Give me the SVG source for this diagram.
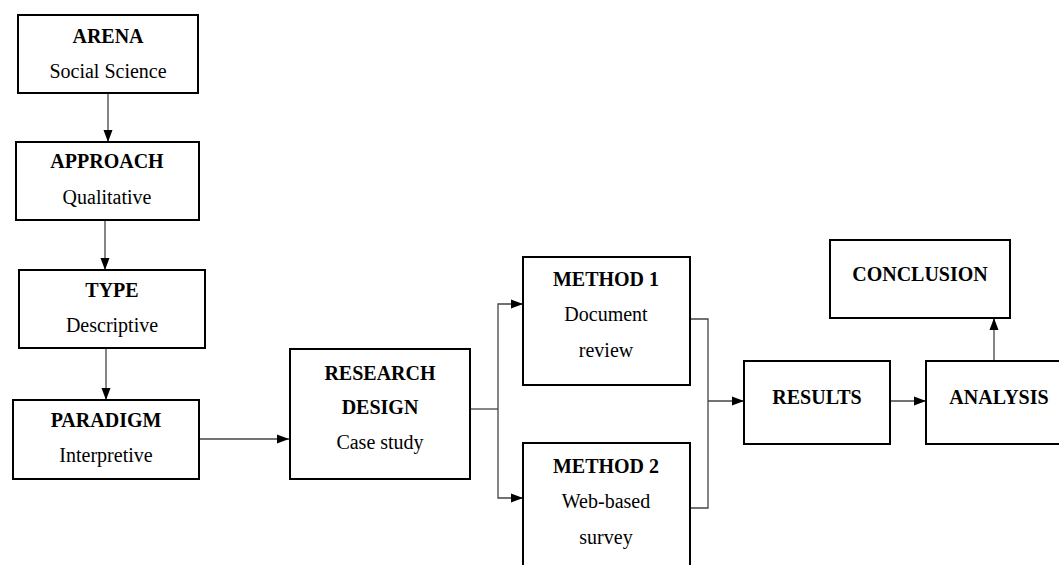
<svg xmlns="http://www.w3.org/2000/svg" width="1059" height="565" viewBox="0 0 1059 565">
<style>
.box{fill:#fff;stroke:#000;stroke-width:2}
.b{font-family:"Liberation Serif","DejaVu Serif",serif;font-size:20px;font-weight:bold;text-anchor:middle;fill:#000}
.r{font-family:"Liberation Serif","DejaVu Serif",serif;font-size:20px;text-anchor:middle;fill:#000}
.c{fill:none;stroke:#444;stroke-width:1.3}
</style>
<defs>
<marker id="ah" markerUnits="userSpaceOnUse" markerWidth="12" markerHeight="12" viewBox="0 0 12 12" refX="12" refY="6" orient="auto">
<path d="M0,1.5 L12,6 L0,10.5 Z" fill="#000"/>
</marker>
</defs>
<rect width="1059" height="565" fill="#fff"/>
<g id="connectors">
<line class="c" x1="108" y1="93" x2="108" y2="142" marker-end="url(#ah)"/>
<line class="c" x1="105" y1="220" x2="105" y2="270" marker-end="url(#ah)"/>
<line class="c" x1="106" y1="348" x2="106" y2="400" marker-end="url(#ah)"/>
<line class="c" x1="199" y1="439" x2="289" y2="439" marker-end="url(#ah)"/>
<polyline class="c" points="470,409 498,409"/>
<polyline class="c" points="498,409 498,304 523,304" marker-end="url(#ah)"/>
<polyline class="c" points="498,409 498,498 523,498" marker-end="url(#ah)"/>
<polyline class="c" points="690,319 708,319 708,508 690,508"/>
<line class="c" x1="708" y1="401" x2="744" y2="401" marker-end="url(#ah)"/>
<line class="c" x1="890" y1="401" x2="926" y2="401" marker-end="url(#ah)"/>
<line class="c" x1="994" y1="361" x2="994" y2="318" marker-end="url(#ah)"/>
</g>
<g id="arena">
<rect class="box" x="18" y="15" width="180" height="78"/>
<text class="b" x="108" y="43">ARENA</text>
<text class="r" x="108" y="78">Social Science</text>
</g>
<g id="approach">
<rect class="box" x="16" y="142" width="183" height="78"/>
<text class="b" x="107" y="168">APPROACH</text>
<text class="r" x="107" y="204">Qualitative</text>
</g>
<g id="type">
<rect class="box" x="19" y="270" width="186" height="78"/>
<text class="b" x="112" y="297">TYPE</text>
<text class="r" x="112" y="332">Descriptive</text>
</g>
<g id="paradigm">
<rect class="box" x="13" y="400" width="186" height="79"/>
<text class="b" x="106" y="427">PARADIGM</text>
<text class="r" x="106" y="462">Interpretive</text>
</g>
<g id="research-design">
<rect class="box" x="290" y="349" width="180" height="130"/>
<text class="b" x="380" y="380">RESEARCH</text>
<text class="b" x="380" y="414">DESIGN</text>
<text class="r" x="380" y="449">Case study</text>
</g>
<g id="method1">
<rect class="box" x="523" y="257" width="167" height="128"/>
<text class="b" x="606" y="286">METHOD 1</text>
<text class="r" x="606" y="321">Document</text>
<text class="r" x="606" y="357">review</text>
</g>
<g id="method2">
<rect class="box" x="523" y="443" width="167" height="135"/>
<text class="b" x="606" y="473">METHOD 2</text>
<text class="r" x="606" y="508">Web-based</text>
<text class="r" x="606" y="544">survey</text>
</g>
<g id="results">
<rect class="box" x="744" y="361" width="146" height="83"/>
<text class="b" x="817" y="404">RESULTS</text>
</g>
<g id="analysis">
<rect class="box" x="926" y="361" width="147" height="83"/>
<text class="b" x="999" y="404">ANALYSIS</text>
</g>
<g id="conclusion">
<rect class="box" x="830" y="240" width="180" height="78"/>
<text class="b" x="920" y="281">CONCLUSION</text>
</g>
</svg>
